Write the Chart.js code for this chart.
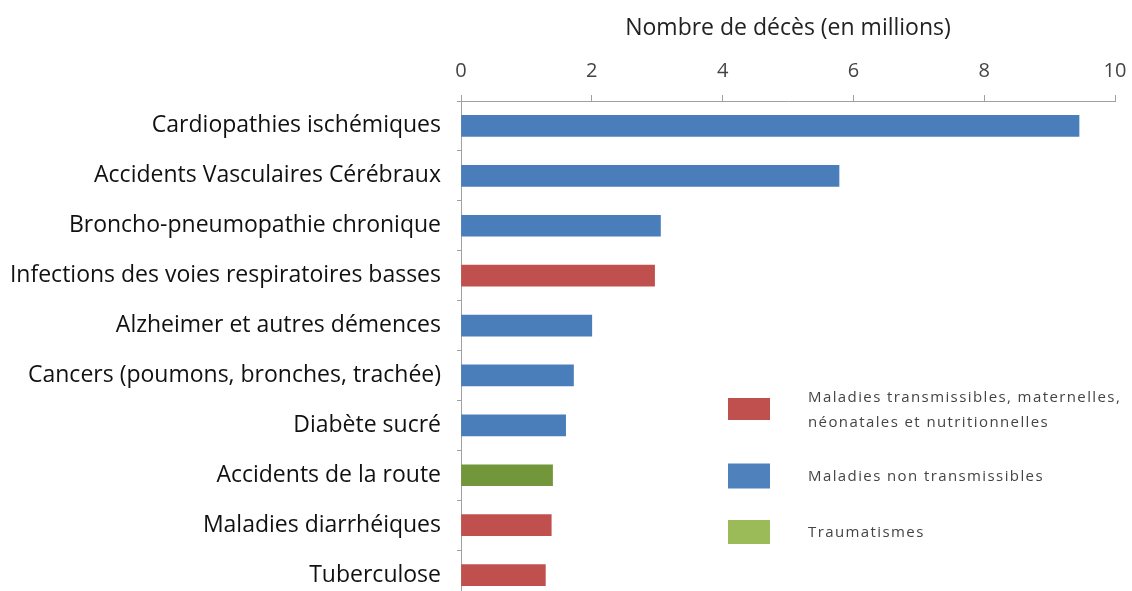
<!DOCTYPE html>
<html>
<head>
<meta charset="utf-8">
<script src="https://cdn.jsdelivr.net/npm/chart.js@4"></script>
<style>
html,body{margin:0;padding:0;background:#fff;overflow:hidden;}
#wrap{width:1132px;height:600px;position:relative;}
</style>
</head>
<body>
<div id="wrap"><canvas id="c" width="1132" height="600"></canvas></div>
<script>
const categories = [
  "Cardiopathies ischémiques",
  "Accidents Vasculaires Cérébraux",
  "Broncho-pneumopathie chronique",
  "Infections des voies respiratoires basses",
  "Alzheimer et autres démences",
  "Cancers (poumons, bronches, trachée)",
  "Diabète sucré",
  "Accidents de la route",
  "Maladies diarrhéiques",
  "Tuberculose"
];
const values = [9.45, 5.78, 3.05, 2.96, 2.0, 1.72, 1.6, 1.4, 1.38, 1.29];
const groupOfBar = [1, 1, 1, 0, 1, 1, 1, 2, 0, 0];
const groupLabels = [
  ["Maladies transmissibles, maternelles,", "néonatales et nutritionnelles"],
  ["Maladies non transmissibles"],
  ["Traumatismes"]
];
const barColors = ["#c0504d", "#4a7ebb", "#72963a"];
const legendColors = ["#c0504d", "#4f81bd", "#9bbb59"];
const xTicks = [0, 2, 4, 6, 8, 10];
const axisTitle = "Nombre de décès (en millions)";

const FONT = "'Open Sans'";

const legendPlugin = {
  id: "customLegend",
  afterDraw(chart) {
    const ctx = chart.ctx;
    const boxX = 728, boxW = 42;
    const rows = [
      {cy: 409, h: 22},
      {cy: 476, h: 25},
      {cy: 532, h: 24}
    ];
    ctx.save();
    ctx.font = "15px " + FONT;
    try { ctx.letterSpacing = "1.4px"; } catch (e) {}
    ctx.textBaseline = "middle";
    ctx.textAlign = "left";
    groupLabels.forEach((lines, i) => {
      const r = rows[i];
      ctx.fillStyle = legendColors[i];
      ctx.fillRect(boxX, r.cy - r.h / 2, boxW, r.h);
      ctx.fillStyle = "#444";
      const lh = 25;
      const start = r.cy - (lines.length - 1) * lh / 2 + 1;
      lines.forEach((t, j) => ctx.fillText(t, 808, start + j * lh));
    });
    ctx.restore();
  }
};

new Chart(document.getElementById("c"), {
  type: "bar",
  data: {
    labels: categories,
    datasets: [{
      data: values,
      backgroundColor: groupOfBar.map(g => barColors[g]),
      borderWidth: 0,
      barThickness: 21
    }]
  },
  plugins: [legendPlugin],
  options: {
    indexAxis: "y",
    responsive: false,
    animation: false,
    events: [],
    layout: {padding: {left: 0, right: 17, top: 0, bottom: 0}},
    plugins: {legend: {display: false}, tooltip: {enabled: false}},
    scales: {
      x: {
        position: "top",
        min: 0, max: 10,
        afterBuildTicks: s => { s.ticks = xTicks.map(v => ({value: v})); },
        afterFit: s => { s.height = 101; s.paddingLeft = 0; s.paddingRight = 0; },
        border: {color: "#a0a0a0", width: 1},
        grid: {drawOnChartArea: false, drawTicks: true, tickLength: 6, tickColor: "#a0a0a0"},
        ticks: {color: "#444", font: {family: FONT, size: 20}, padding: 12},
        title: {display: true, text: axisTitle, color: "#222", font: {family: FONT, size: 23}, padding: {top: 15, bottom: 0}}
      },
      y: {
        afterFit: s => { s.width = 461; s.paddingTop = 0; s.paddingBottom = 0; },
        border: {color: "#a0a0a0", width: 1},
        grid: {drawOnChartArea: false, offset: true, tickLength: 4, tickColor: "#a0a0a0"},
        ticks: {color: "#111", font: {family: FONT, size: 23}, padding: 16}
      }
    }
  }
});
</script>
</body>
</html>
